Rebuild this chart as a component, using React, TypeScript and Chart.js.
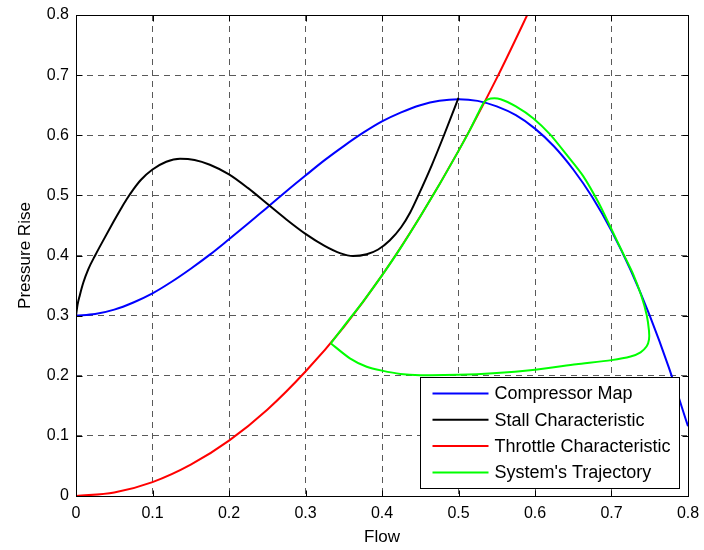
import React, { useEffect, useRef } from 'react';
import { Chart, registerables } from 'chart.js';

Chart.register(...registerables);

const xTicks = [0, 0.1, 0.2, 0.3, 0.4, 0.5, 0.6, 0.7, 0.8];
const xTickLabels = ['0', '0.1', '0.2', '0.3', '0.4', '0.5', '0.6', '0.7', '0.8'];
const yTicks = [0, 0.1, 0.2, 0.3, 0.4, 0.5, 0.6, 0.7, 0.8];
const yTickLabels = ['0', '0.1', '0.2', '0.3', '0.4', '0.5', '0.6', '0.7', '0.8'];

const xTitle = 'Flow';
const yTitle = 'Pressure Rise';

const seriesLabels = ['Compressor Map', 'Stall Characteristic', 'Throttle Characteristic', "System's Trajectory"];
const seriesColors = ['#0000ff', '#000000', '#ff0000', '#00ff00'];

const compressorFlow = [0, 0.025, 0.05, 0.075, 0.1, 0.125, 0.15, 0.175, 0.2, 0.225, 0.25, 0.275, 0.3, 0.325, 0.35, 0.375, 0.4, 0.425, 0.45, 0.475, 0.5, 0.525, 0.55, 0.575, 0.6, 0.625, 0.65, 0.675, 0.7, 0.725, 0.75, 0.775, 0.8];
const compressorPressure = [0.3, 0.3026, 0.31, 0.3219, 0.337, 0.3563, 0.378, 0.4014, 0.427, 0.4531, 0.48, 0.5069, 0.533, 0.5586, 0.582, 0.6038, 0.623, 0.6381, 0.65, 0.6574, 0.66, 0.6572, 0.648, 0.6333, 0.611, 0.5813, 0.543, 0.4968, 0.441, 0.3757, 0.3, 0.2135, 0.116];

const stallFlow = [0, 0.002, 0.005, 0.0096, 0.016, 0.025, 0.036, 0.049, 0.058, 0.066, 0.075, 0.085, 0.1, 0.118, 0.136, 0.155, 0.175, 0.2, 0.225, 0.25, 0.275, 0.3, 0.325, 0.345, 0.362, 0.38, 0.395, 0.41, 0.425, 0.437, 0.4475, 0.465, 0.481, 0.5];
const stallPressure = [0.3, 0.318, 0.334, 0.355, 0.377, 0.4, 0.426, 0.456, 0.476, 0.493, 0.51, 0.526, 0.543, 0.556, 0.561, 0.559, 0.551, 0.535, 0.512, 0.486, 0.46, 0.436, 0.416, 0.404, 0.399, 0.402, 0.41, 0.425, 0.447, 0.472, 0.5, 0.55, 0.6, 0.662];

const throttleFlow = [0, 0.05, 0.1, 0.15, 0.2, 0.25, 0.3, 0.35, 0.4, 0.45, 0.5, 0.55, 0.6];
const throttlePressure = [0, 0.0057, 0.023, 0.052, 0.092, 0.1435, 0.207, 0.281, 0.367, 0.465, 0.574, 0.695, 0.827];

const trajectoryFlow = [0.333, 0.35, 0.375, 0.4, 0.425, 0.45, 0.475, 0.5, 0.515, 0.527, 0.534, 0.542, 0.555, 0.575, 0.598, 0.62, 0.641, 0.663, 0.683, 0.698, 0.715, 0.728, 0.739, 0.746, 0.749, 0.749, 0.746, 0.738, 0.725, 0.7, 0.654, 0.6, 0.545, 0.5, 0.45, 0.424, 0.4, 0.38, 0.358, 0.333];
const trajectoryPressure = [0.254, 0.282, 0.323, 0.367, 0.414, 0.465, 0.518, 0.574, 0.609, 0.64, 0.656, 0.661, 0.66, 0.648, 0.628, 0.601, 0.568, 0.532, 0.488, 0.449, 0.404, 0.37, 0.333, 0.301, 0.275, 0.26, 0.249, 0.239, 0.232, 0.226, 0.219, 0.21, 0.204, 0.2015, 0.201, 0.203, 0.2085, 0.215, 0.229, 0.254];

const FONT = 'Liberation Sans, Arial, Helvetica, sans-serif';

const toPts = (xs: number[], ys: number[]) => xs.map((x, i) => ({ x, y: ys[i] }));

const framePlugin = {
  id: 'frameAndLegend',
  afterDraw(chart: any) {
    const { ctx, chartArea: a, scales } = chart;
    ctx.save();
    ctx.setLineDash([]);
    ctx.strokeStyle = '#000';
    ctx.lineWidth = 1;
    const L = 6;
    const left = Math.round(a.left) + 0.5;
    const right = Math.round(a.right) + 0.5;
    const top = Math.round(a.top) + 0.5;
    const bottom = Math.round(a.bottom) + 0.5;
    ctx.beginPath();
    xTicks.forEach((v) => {
      const px = Math.round(scales.x.getPixelForValue(v)) + 0.5;
      ctx.moveTo(px, bottom);
      ctx.lineTo(px, bottom - L);
      ctx.moveTo(px, top);
      ctx.lineTo(px, top + L);
    });
    yTicks.forEach((v) => {
      const py = Math.round(scales.y.getPixelForValue(v)) + 0.5;
      ctx.moveTo(left, py);
      ctx.lineTo(left + L, py);
      ctx.moveTo(right, py);
      ctx.lineTo(right - L, py);
    });
    ctx.stroke();
    ctx.strokeRect(left, top, right - left, bottom - top);

    // legend
    ctx.font = '18px ' + FONT;
    const widths = seriesLabels.map((t) => ctx.measureText(t).width);
    const maxW = Math.max(...widths);
    const boxW = Math.round(74 + maxW + 9);
    const boxH = 111;
    const bx = Math.round(a.right - 9 - boxW) + 0.5;
    const by = Math.round(a.bottom - 8 - boxH) + 0.5;
    ctx.fillStyle = '#fff';
    ctx.fillRect(bx, by, boxW, boxH);
    ctx.strokeStyle = '#000';
    ctx.lineWidth = 1;
    ctx.strokeRect(bx, by, boxW, boxH);
    seriesLabels.forEach((label, i) => {
      const cy = by + 16 + i * 26.3;
      ctx.beginPath();
      ctx.strokeStyle = seriesColors[i];
      ctx.lineWidth = 2;
      ctx.moveTo(bx + 12, cy);
      ctx.lineTo(bx + 68, cy);
      ctx.stroke();
      ctx.fillStyle = '#000';
      ctx.textBaseline = 'middle';
      ctx.textAlign = 'left';
      ctx.fillText(label, bx + 74, cy + 1);
    });
    ctx.restore();
  },
};

export default function App() {
  const ref = useRef<HTMLCanvasElement>(null);
  useEffect(() => {
    if (!ref.current) return;
    const mk = (i: number, xs: number[], ys: number[], order: number, mono: boolean) => ({
      label: seriesLabels[i],
      data: toPts(xs, ys),
      borderColor: seriesColors[i],
      backgroundColor: seriesColors[i],
      showLine: true,
      pointRadius: 0,
      pointHoverRadius: 0,
      borderWidth: 2,
      fill: false,
      order,
      ...(mono ? { cubicInterpolationMode: 'monotone' } : { tension: 0.25 }),
    });
    const tickFont = { family: FONT, size: 16 };
    const titleFont = { family: FONT, size: 17 };
    const chart = new Chart(ref.current, {
      type: 'scatter',
      data: {
        datasets: [
          mk(0, compressorFlow, compressorPressure, 4, true),
          mk(1, stallFlow, stallPressure, 3, true),
          mk(2, throttleFlow, throttlePressure, 2, true),
          mk(3, trajectoryFlow, trajectoryPressure, 1, false),
        ] as any,
      },
      options: {
        responsive: false,
        animation: false,
        devicePixelRatio: 1,
        layout: { padding: { top: 15, right: 16, left: 0, bottom: 0 } },
        plugins: { legend: { display: false }, tooltip: { enabled: false } },
        events: [],
        scales: {
          x: {
            type: 'linear',
            min: 0,
            max: 0.8,
            afterFit: (s: any) => { s.height = 54; s.paddingLeft = 0; s.paddingRight = 0; },
            afterBuildTicks: (s: any) => { s.ticks = xTicks.map((v) => ({ value: v })); },
            ticks: { autoSkip: false, maxRotation: 0, padding: 8, color: '#000', font: tickFont, callback: (_v: any, i: number) => xTickLabels[i] },
            grid: { color: 'rgba(0,0,0,0.65)', borderDash: [6, 5], drawTicks: false, lineWidth: 1 } as any,
            border: { display: false, dash: [6, 5] },
            title: { display: true, text: xTitle, color: '#000', font: titleFont, padding: { top: 0, bottom: 2 } },
          },
          y: {
            type: 'linear',
            min: 0,
            max: 0.8,
            afterFit: (s: any) => { s.width = 76; s.paddingTop = 0; s.paddingBottom = 0; },
            afterBuildTicks: (s: any) => { s.ticks = yTicks.map((v) => ({ value: v })); },
            ticks: { autoSkip: false, padding: 7, color: '#000', font: tickFont, callback: (_v: any, i: number) => yTickLabels[i] },
            grid: { color: 'rgba(0,0,0,0.65)', borderDash: [6, 5], drawTicks: false, lineWidth: 1 } as any,
            border: { display: false, dash: [6, 5] },
            title: { display: true, text: yTitle, color: '#000', font: titleFont, padding: { top: 15, bottom: 0 } },
          },
        },
      } as any,
      plugins: [framePlugin],
    });
    return () => chart.destroy();
  }, []);
  return (
    <div style={{ position: 'fixed', left: 0, top: 0, width: 704, height: 550, background: '#fff' }}>
      <canvas ref={ref} width={704} height={550} style={{ display: 'block', width: 704, height: 550 }} />
    </div>
  );
}
